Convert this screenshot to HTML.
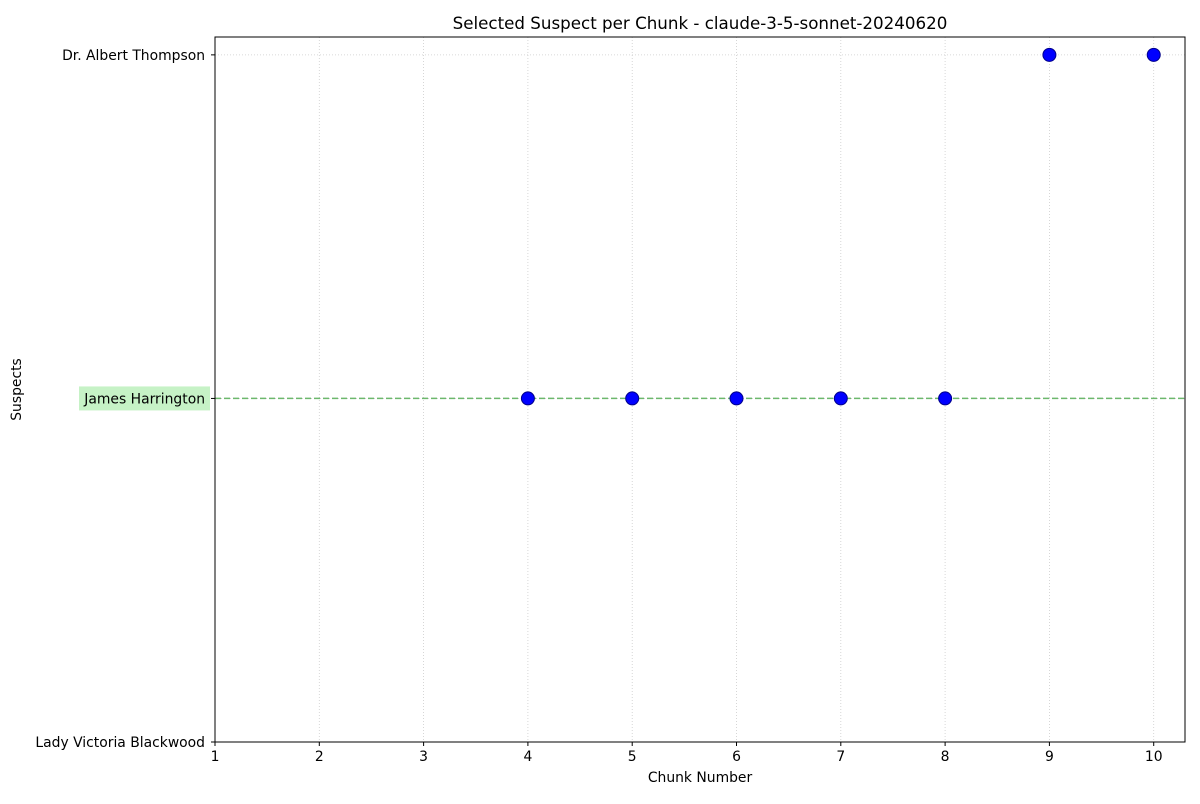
<!DOCTYPE html>
<html><head><meta charset="utf-8"><style>
body{margin:0;background:#fff;font-family:"DejaVu Sans","Liberation Sans",sans-serif;}
</style></head><body>
<svg id="chart" width="1200" height="800" xmlns="http://www.w3.org/2000/svg" font-family="DejaVu Sans, Liberation Sans, sans-serif">
<rect width="1200" height="800" fill="#fff"/>
<g id="grid"></g>
<g id="marks"></g>
<g id="axes"></g>
</svg>
<script>
const categories = ["Lady Victoria Blackwood","James Harrington","Dr. Albert Thompson"];
const chunks = [4,5,6,7,8,9,10];
const suspectIdx = [1,1,1,1,1,2,2];
const xTicks = [1,2,3,4,5,6,7,8,9,10];
const highlighted = 1;

const L=215,R=1185,T=37,B=742;
const xMin=1,xMax=10.3,yMin=0,yMax=2.052;
const xs=v=>L+(v-xMin)/(xMax-xMin)*(R-L);
const ys=v=>B-(v-yMin)/(yMax-yMin)*(B-T);
const NS="http://www.w3.org/2000/svg";
function mk(parent,tag,attrs,text){const e=document.createElementNS(NS,tag);for(const k in attrs)e.setAttribute(k,attrs[k]);if(text!==undefined)e.textContent=text;document.getElementById(parent).appendChild(e);return e;}

xTicks.forEach(t=>{
  const x=xs(t);
  const g=mk('grid','line',{x1:x,x2:x,y1:T,y2:B,stroke:'#ccc','stroke-width':0.8,'stroke-dasharray':'1,2'});
  
  
  const tk=mk('axes','line',{x1:x,x2:x,y1:B,y2:B+4,stroke:'#000'});
  
  
  const lb=mk('axes','text',{x:x,y:B+19,'text-anchor':'middle','font-size':13.9},t);
  
  
});
categories.forEach((c,i)=>{
  const y=ys(i);
  const g=mk('grid','line',{x1:L,x2:R,y1:y,y2:y,stroke:'#ccc','stroke-width':0.8,'stroke-dasharray':'1,2'});
  
  
  const tk=mk('axes','line',{x1:L-4,x2:L,y1:y,y2:y,stroke:'#000'});
  
  
  if(i===highlighted){
    const bg=mk('axes','rect',{x:79,y:y-12,width:131,height:24,fill:'#c6f2c6'});
    
    
  }
  const lb=mk('axes','text',{x:L-10,y:y+5,'text-anchor':'end','font-size':13.9},c);
  
  
});
const hl=mk('marks','line',{x1:L,x2:R,y1:ys(highlighted),y2:ys(highlighted),stroke:'#6cb86c','stroke-width':1.5,'stroke-dasharray':'6,3'});


chunks.forEach((c,i)=>{
  const p=mk('marks','circle',{cx:xs(c),cy:ys(suspectIdx[i]),r:6.5,fill:'#0000ff',stroke:'#00008b','stroke-width':1});
  
  
});
const fr=mk('axes','rect',{x:L,y:T,width:R-L,height:B-T,fill:'none',stroke:'#000','stroke-width':1});


const ti=mk('axes','text',{x:(L+R)/2,y:29,'text-anchor':'middle','font-size':16.7},'Selected Suspect per Chunk - claude-3-5-sonnet-20240620');


const xt=mk('axes','text',{x:(L+R)/2,y:782,'text-anchor':'middle','font-size':13.9},'Chunk Number');


const yt=mk('axes','text',{x:21,y:(T+B)/2,'text-anchor':'middle','font-size':13.9,transform:'rotate(-90 21 '+((T+B)/2)+')'},'Suspects');


</script>
</body></html>
